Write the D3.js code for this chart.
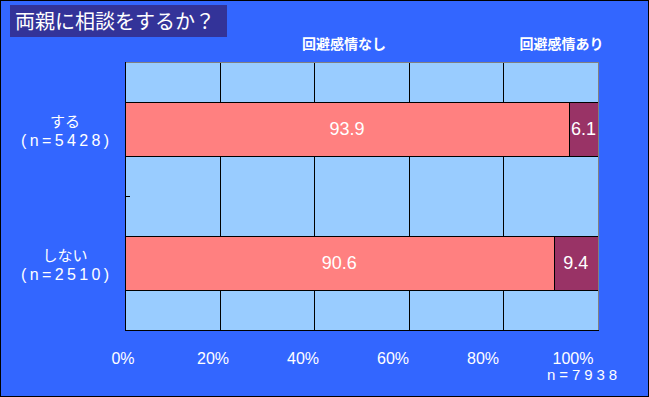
<!DOCTYPE html>
<html>
<head>
<meta charset="utf-8">
<script src="https://cdn.jsdelivr.net/npm/d3@7"></script>
<style>
  body { margin: 0; background: #fff; }
  svg { display: block; }
  text { font-family: "Noto Sans CJK JP", sans-serif; fill: #fff; }
  .latin { font-family: "Liberation Sans", Arial, sans-serif; }
</style>
</head>
<body>
<svg width="649" height="397"></svg>
<script>
var svg = d3.select('svg');
var width = +svg.attr('width');
var height = +svg.attr('height');

// data
var categories = ['する', 'しない'];
var counts = ['(n=5428)', '(n=2510)'];
var seriesNames = ['回避感情なし', '回避感情あり'];
var noAvoid = [93.9, 90.6];
var avoid = [6.1, 9.4];
var ticks = [0, 20, 40, 60, 80, 100];
var legendAt = [46.3, 92.3];
var colors = ['#ff8080', '#993366'];

var margin = { left: 125, top: 62, right: 51, bottom: 67 };
var plotW = width - margin.left - margin.right;
var plotH = height - margin.top - margin.bottom;

var x = d3.scaleLinear().domain([0, 100]).range([0, plotW]);
// Excel drew the tick labels on a slightly tighter spacing
var xLabel = d3.scaleLinear().domain([0, 100]).range([-2, 448]);
var y = d3.scaleBand().domain(categories).range([0, plotH]).paddingInner(0.6).paddingOuter(0.3);
var band = d3.scaleBand().domain(categories).range([0, plotH]);

// frame
svg.append('rect')
  .attr('x', 0.5).attr('y', 0.5)
  .attr('width', width - 1).attr('height', height - 1)
  .attr('fill', '#3366ff').attr('stroke', '#000');

// title
svg.append('rect')
  .attr('x', 10).attr('y', 5).attr('width', 217).attr('height', 32)
  .attr('fill', '#333399');
svg.append('text')
  .attr('x', 15).attr('y', 29)
  .attr('font-size', 20)
  .text('両親に相談をするか？');

var g = svg.append('g').attr('transform', 'translate(' + margin.left + ',' + margin.top + ')');

g.append('rect')
  .attr('width', plotW).attr('height', plotH)
  .attr('fill', '#99ccff');

// vertical gridlines
g.selectAll('.grid')
  .data(ticks.slice(1, -1))
  .enter()
  .append('line')
  .attr('x1', d => Math.round(x(d)) + 0.5).attr('x2', d => Math.round(x(d)) + 0.5)
  .attr('y1', 0).attr('y2', plotH)
  .attr('stroke', '#000');

// bars
var rows = categories.map((c, i) => ({ cat: c, vals: [noAvoid[i], avoid[i]] }));

rows.forEach(function (r) {
  var start = 0;
  r.vals.forEach(function (v, j) {
    var x0 = x(start), x1 = x(start + v);
    g.append('rect')
      .attr('x', Math.round(x0) + 0.5)
      .attr('y', Math.round(y(r.cat)) + 0.5)
      .attr('width', Math.round(x1) - Math.round(x0))
      .attr('height', Math.round(y.bandwidth()))
      .attr('fill', colors[j])
      .attr('stroke', '#000');
    g.append('text')
      .attr('class', 'latin')
      .attr('x', (x0 + x1) / 2)
      .attr('y', y(r.cat) + y.bandwidth() / 2)
      .attr('dy', '0.36em')
      .attr('text-anchor', 'middle')
      .attr('font-size', 18)
      .text(v.toFixed(1));
    start += v;
  });
});

// axes lines
g.append('line').attr('x1', 0).attr('x2', plotW).attr('y1', 0.5).attr('y2', 0.5).attr('stroke', '#808080');
g.append('line').attr('x1', plotW + 0.5).attr('x2', plotW + 0.5).attr('y1', 0).attr('y2', plotH).attr('stroke', '#808080');
g.append('line').attr('x1', 0.5).attr('x2', 0.5).attr('y1', 0).attr('y2', plotH + 1).attr('stroke', '#000');
g.append('line').attr('x1', 0).attr('x2', plotW + 1).attr('y1', plotH + 0.5).attr('y2', plotH + 0.5).attr('stroke', '#000');

// category tick between bands
g.append('line')
  .attr('x1', 1).attr('x2', 5)
  .attr('y1', Math.round(band(categories[1])) + 0.5).attr('y2', Math.round(band(categories[1])) + 0.5)
  .attr('stroke', '#000');

// category labels
categories.forEach(function (c, i) {
  var cy = y(c) + y.bandwidth() / 2;
  g.append('text')
    .attr('x', -60).attr('y', cy - 2)
    .attr('text-anchor', 'middle')
    .attr('font-size', 15)
    .text(c);
  g.append('text')
    .attr('class', 'latin')
    .attr('x', -104).attr('y', cy + 17)
    .attr('font-size', 16)
    .attr('textLength', 88)
    .attr('lengthAdjust', 'spacing')
    .text(counts[i]);
});

// x tick labels
g.selectAll('.tick-label')
  .data(ticks)
  .enter()
  .append('text')
  .attr('class', 'latin')
  .attr('x', d => xLabel(d))
  .attr('y', plotH + 34)
  .attr('text-anchor', 'middle')
  .attr('font-size', 16)
  .text(d => d + '%');

g.append('text')
  .attr('class', 'latin')
  .attr('x', 422).attr('y', plotH + 50)
  .attr('font-size', 15)
  .attr('textLength', 70)
  .attr('lengthAdjust', 'spacing')
  .text('n=7938');

// series labels
seriesNames.forEach(function (s, i) {
  g.append('text')
    .attr('x', x(legendAt[i]))
    .attr('y', -13)
    .attr('text-anchor', 'middle')
    .attr('font-size', 14)
    .attr('font-weight', 'bold')
    .text(s);
});
</script>
</body>
</html>
